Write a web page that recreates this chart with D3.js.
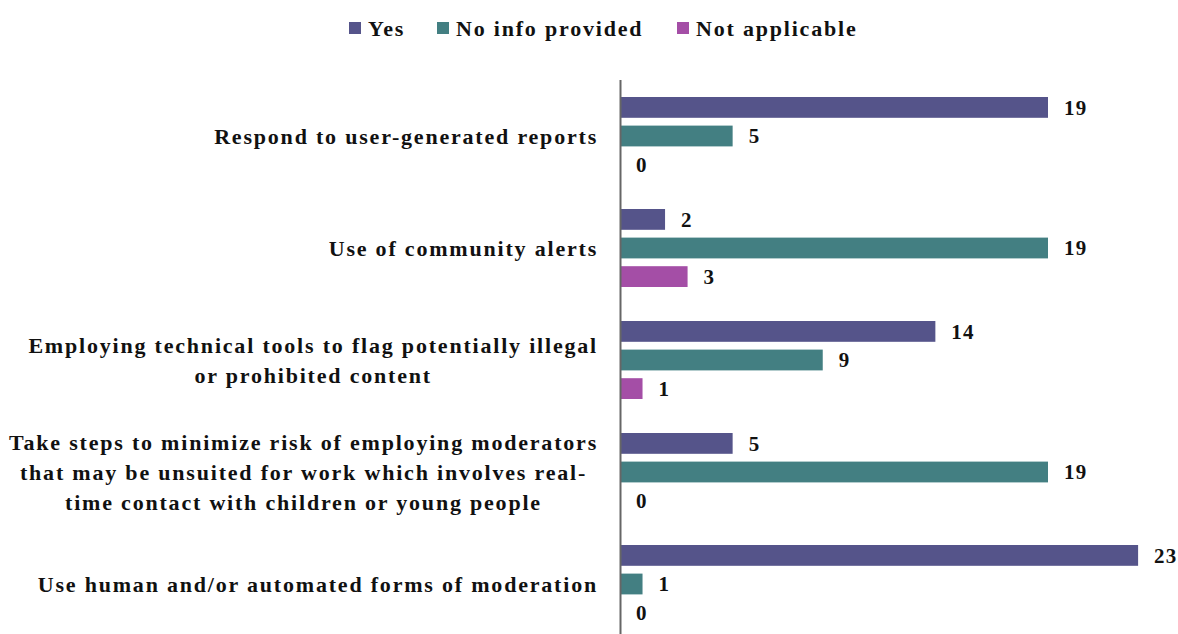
<!DOCTYPE html>
<html><head><meta charset="utf-8">
<script src="https://cdn.jsdelivr.net/npm/d3@7"></script>
<style>body{margin:0;background:#fff;} text{font-family:"Liberation Serif","DejaVu Serif",serif;font-weight:bold;fill:#111;}</style>
</head><body>
<svg id="c" width="1178" height="634"></svg>
<script>
const categories = [
  ["Respond to user-generated reports"],
  ["Use of community alerts"],
  ["Employing technical tools to flag potentially illegal", "or prohibited content"],
  ["Take steps to minimize risk of employing moderators", "that may be unsuited for work which involves real-", "time contact with children or young people"],
  ["Use human and/or automated forms of moderation"]
];
const seriesNames = ["Yes", "No info provided", "Not applicable"];
const yesValues = [19, 2, 14, 5, 23];
const noInfoValues = [5, 19, 9, 19, 1];
const notApplicableValues = [0, 3, 1, 0, 0];
const colors = ["#55548a", "#437f82", "#a44ea6"];

const series = [yesValues, noInfoValues, notApplicableValues];
const svg = d3.select("#c");
const plotLeft = 620, plotTop = 80;
const x = d3.scaleLinear().domain([0, 19]).range([plotLeft, 1048]);
const y0 = d3.scaleBand().domain(d3.range(categories.length)).range([plotTop, plotTop + 560]).paddingInner(0.3036).paddingOuter(0.1518);
const y1 = d3.scaleBand().domain(d3.range(3)).range([0, y0.bandwidth()]).paddingInner(0.2727);

categories.forEach((cat, i) => {
  const g = svg.append("g").attr("transform", `translate(0,${y0(i)})`);
  series.forEach((vals, s) => {
    const v = vals[i];
    if (v > 0) {
      g.append("rect").attr("x", x(0)).attr("y", y1(s)).attr("width", x(v) - x(0)).attr("height", y1.bandwidth()).attr("fill", colors[s]);
    }
    g.append("text").attr("x", x(v) + 16).attr("y", y1(s) + y1.bandwidth() / 2).attr("dy", "0.35em")
      .attr("font-size", 21).attr("letter-spacing", 1.2).text(v);
  });
});

// category labels
categories.forEach((lines, i) => {
  const cy = y0(i) + y0.bandwidth() / 2;
  const t = svg.append("text").attr("font-size", 22).attr("letter-spacing", 1.8).attr("text-anchor", "middle");
  const lh = 30;
  lines.forEach((ln, k) => {
    t.append("tspan").attr("x", 0).attr("y", cy + (k - (lines.length - 1) / 2) * lh).attr("dy", "0.35em").text(ln);
  });
  let maxW = 0;
  t.selectAll("tspan").each(function(){ maxW = Math.max(maxW, this.getComputedTextLength()); });
  t.selectAll("tspan").attr("x", 598 - maxW / 2);
});

// axis line
svg.append("line").attr("x1", plotLeft + 0.5).attr("x2", plotLeft + 0.5).attr("y1", plotTop).attr("y2", 634).attr("stroke", "#666").attr("stroke-width", 2);

// legend
const legendX = [349, 437, 677];
seriesNames.forEach((n, s) => {
  svg.append("rect").attr("x", legendX[s]).attr("y", 22).attr("width", 12).attr("height", 12).attr("fill", colors[s]);
  svg.append("text").attr("x", legendX[s] + 19).attr("y", 28).attr("dy", "0.35em").attr("font-size", 22).attr("letter-spacing", 1.8).text(n);
});
</script>
</body></html>
